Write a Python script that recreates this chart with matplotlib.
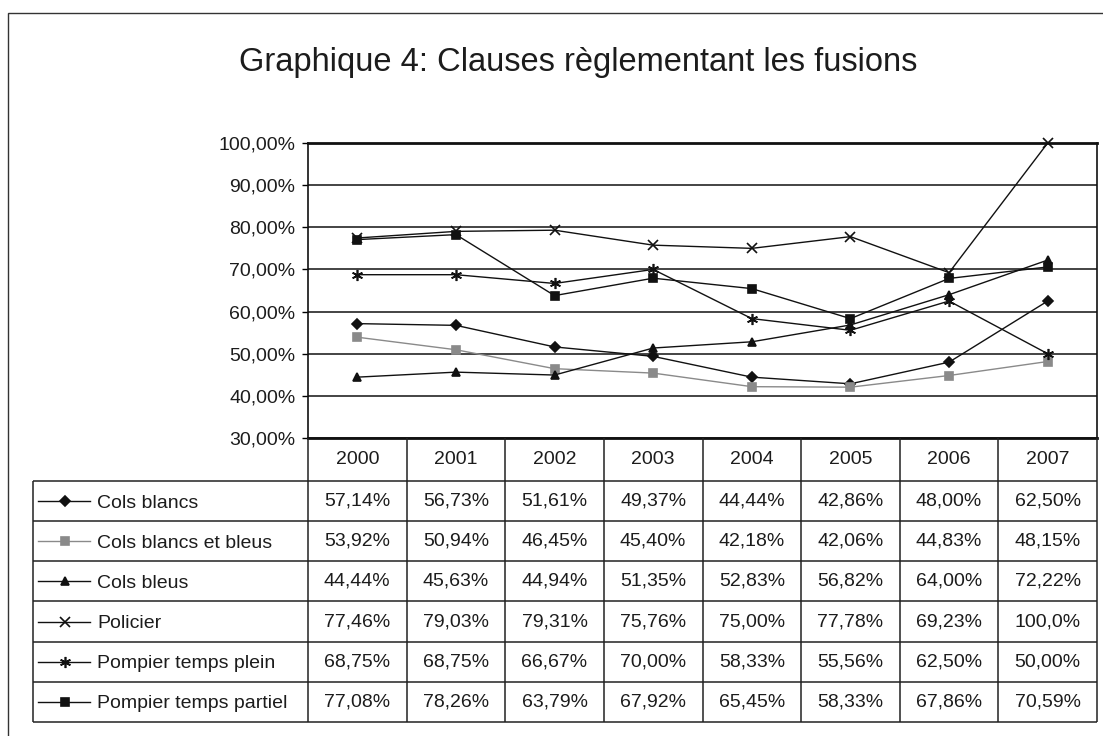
import matplotlib as mpl
mpl.use("Agg")

import matplotlib.pyplot as plt
from matplotlib.patches import Rectangle
from matplotlib.ticker import FuncFormatter

# ----------------------------------------------------------
# Graphique 4: clauses reglementant les fusions (2000-2007)
# ----------------------------------------------------------

YEARS = ["2000", "2001", "2002", "2003", "2004", "2005", "2006", "2007"]

COLS_BLANCS = [57.14, 56.73, 51.61, 49.37, 44.44, 42.86, 48.00, 62.50]
COLS_BLANCS_BLEUS = [53.92, 50.94, 46.45, 45.40, 42.18, 42.06, 44.83, 48.15]
COLS_BLEUS = [44.44, 45.63, 44.94, 51.35, 52.83, 56.82, 64.00, 72.22]
POLICIER = [77.46, 79.03, 79.31, 75.76, 75.00, 77.78, 69.23, 100.0]
POMPIER_PLEIN = [68.75, 68.75, 66.67, 70.00, 58.33, 55.56, 62.50, 50.00]
POMPIER_PARTIEL = [77.08, 78.26, 63.79, 67.92, 65.45, 58.33, 67.86, 70.59]

LABELS = [
    "Cols blancs",
    "Cols blancs et bleus",
    "Cols bleus",
    "Policier",
    "Pompier temps plein",
    "Pompier temps partiel",
]
SERIES = [COLS_BLANCS, COLS_BLANCS_BLEUS, COLS_BLEUS, POLICIER, POMPIER_PLEIN, POMPIER_PARTIEL]

Y_TICKS = [30, 40, 50, 60, 70, 80, 90, 100]

# marker, colour, marker size
STYLES = [
    ("D", "#111111", 5),
    ("s", "#8a8a8a", 6),
    ("^", "#111111", 6),
    ("x", "#111111", 7),
    ((6, 2, 0), "#111111", 8),
    ("s", "#111111", 6),
]

FONT = "Liberation Sans"
TEXT_COLOR = "#1c1c1c"
TEXT_SIZE = 14

W, H = 1103, 736
mpl.rcParams.update({"font.family": FONT, "figure.facecolor": "white"})


def fx(px):
    return px / W


def fy(py):
    return 1 - py / H


def fmt_pct(v, decimals=2):
    return f"{v:.{decimals}f}%".replace(".", ",")


def cell_text(v):
    # the table shows four significant digits, so 100 becomes "100,0%"
    return fmt_pct(v, 1) if v >= 100 else fmt_pct(v, 2)


def main():
    fig = plt.figure(figsize=(W / 100, H / 100), dpi=100)

    # outer chart frame
    fig.patches.append(
        Rectangle((fx(8), -0.05), 1.2, fy(13) + 0.05, transform=fig.transFigure,
                  fill=False, edgecolor="#333333", linewidth=1.0)
    )

    fig.text(fx(578), fy(62), "Graphique 4: Clauses règlementant les fusions",
             ha="center", va="center", fontsize=23.5, color=TEXT_COLOR)

    # ---------------- line chart ----------------
    left, right, top, bottom = 308, 1097, 143, 438
    ax = fig.add_axes([fx(left), fy(bottom), fx(right - left), (bottom - top) / H])
    x = list(range(len(YEARS)))
    for values, (marker, color, ms) in zip(SERIES, STYLES):
        ax.plot(x, values, color=color, linewidth=1.0, marker=marker, markersize=ms,
                markerfacecolor=color, markeredgecolor=color, markeredgewidth=1.2,
                zorder=3, clip_on=False)

    ax.set_xlim(-0.5, len(YEARS) - 0.5)
    ax.set_ylim(30, 100)
    ax.set_yticks(Y_TICKS)
    ax.yaxis.set_major_formatter(FuncFormatter(lambda v, _: fmt_pct(v)))
    ax.set_xticks([])
    ax.tick_params(axis="y", length=4, width=1, labelsize=TEXT_SIZE, labelcolor=TEXT_COLOR, pad=5)
    ax.grid(axis="y", color="#111111", linewidth=1.1)
    ax.set_axisbelow(True)
    for name, spine in ax.spines.items():
        spine.set_color("#111111")
        spine.set_linewidth(2.0 if name in ("top", "bottom") else 1.2)

    # ---------------- data table ----------------
    t_left, t_right, t_top, t_bottom = 33, 1097, 438, 722
    col_w = (right - left) / len(YEARS)
    leg_w = (left - t_left) / col_w
    header_h = 43 / 40.17
    n_rows = len(LABELS)

    tab = fig.add_axes([fx(t_left), fy(t_bottom), fx(t_right - t_left), (t_bottom - t_top) / H])
    x0 = -0.5 - leg_w
    x1 = len(YEARS) - 0.5
    tab.set_xlim(x0, x1)
    tab.set_ylim(header_h + n_rows, 0)
    tab.axis("off")

    line_kw = dict(color="#222222", linewidth=1.1, clip_on=False)
    # horizontal lines
    tab.hlines(header_h + n_rows, x0, x1, **line_kw)
    for i in range(n_rows):
        tab.hlines(header_h + i, x0, x1, **line_kw)
    # vertical lines
    for j in range(len(YEARS) + 1):
        tab.vlines(j - 0.5, 0, header_h + n_rows, **line_kw)
    tab.vlines(x0, header_h, header_h + n_rows, **line_kw)

    for j, year in enumerate(YEARS):
        tab.text(j, header_h / 2, year, ha="center", va="center",
                 fontsize=TEXT_SIZE, color=TEXT_COLOR)

    for i, (label, values, (marker, color, ms)) in enumerate(zip(LABELS, SERIES, STYLES)):
        yc = header_h + i + 0.5
        for j, v in enumerate(values):
            tab.text(j, yc, cell_text(v), ha="center", va="center",
                     fontsize=TEXT_SIZE, color=TEXT_COLOR)
        # legend key in the first column
        kx = [x0 + 5 / col_w, x0 + 32 / col_w, x0 + 57 / col_w]
        tab.plot(kx, [yc] * 3, color=color, linewidth=1.0, marker=marker,
                 markersize=ms, markevery=[1], markerfacecolor=color,
                 markeredgecolor=color, markeredgewidth=1.2, clip_on=False)
        tab.text(x0 + 64 / col_w, yc + 0.05, label, ha="left", va="center",
                 fontsize=TEXT_SIZE, color=TEXT_COLOR)

    fig.savefig("out.png", dpi=100)
    plt.close(fig)


if __name__ == "__main__":
    main()
